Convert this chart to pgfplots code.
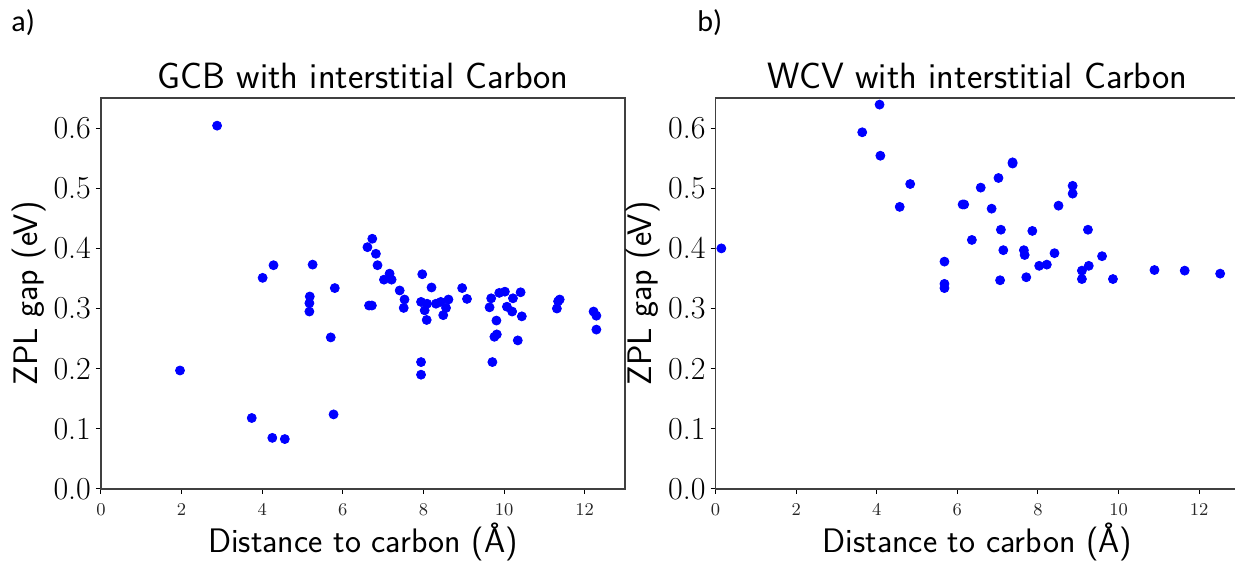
\documentclass[border=0pt]{standalone}
\usepackage{fontspec}
\usepackage{pgfplots}
\pgfplotsset{compat=1.18}
\newfontfamily\calibri{Carlito}
\definecolor{ptblue}{RGB}{0,0,255}
\pgfplotsset{
  myaxis/.style={
    scale only axis,
    width=262pt, height=195.5pt,
    xmin=0, xmax=13, ymin=0, ymax=0.65,
    xtick={0,2,4,6,8,10,12},
    ytick={0,0.1,0.2,0.3,0.4,0.5,0.6},
    yticklabels={0.0,0.1,0.2,0.3,0.4,0.5,0.6},
    tick pos=left,
    tick align=outside,
    major tick length=2.5pt,
    tick style={black, line width=0.5pt},
    axis line style={draw=black!75, line width=0.6pt},
    every x tick label/.style={font=\fontsize{9}{10}\selectfont, yshift=-1.5pt, text=black!85},
    every y tick label/.style={font=\fontsize{16}{18}\selectfont, xshift=1pt},
    title style={font=\fontsize{18.3}{21}\selectfont\sffamily, at={(axis description cs:0.5,1)}, anchor=base, yshift=-1.5pt},
    xlabel style={font=\fontsize{17}{20}\selectfont\sffamily, at={(axis description cs:0.5,-0.1637)}, anchor=base},
    ylabel style={font=\fontsize{17}{20}\selectfont\sffamily, at={(axis description cs:-0.122,0.5)}, anchor=base},
    xlabel={Distance to carbon (Å)},
    ylabel={ZPL gap (eV)},
    clip=false,
  },
  mypts/.style={only marks, mark=*, mark size=2.25pt, mark options={draw=ptblue, fill=ptblue}},
}
\begin{document}
\begin{tikzpicture}
\begin{axis}[myaxis, at={(50.5pt,38pt)}, anchor=south west, title={GCB with interstitial Carbon}]
\addplot[mypts] table {
x y
2.88 0.604
1.96 0.197
3.74 0.118
4.25 0.085
4.56 0.083
4.01 0.351
4.28 0.372
5.25 0.373
5.18 0.320
5.17 0.309
5.17 0.295
5.80 0.334
5.70 0.252
5.77 0.124
6.61 0.402
6.73 0.416
6.82 0.391
6.86 0.372
7.16 0.358
7.02 0.348
7.21 0.348
7.97 0.357
7.41 0.330
7.53 0.315
7.51 0.301
6.65 0.305
6.72 0.305
8.20 0.335
7.94 0.311
8.09 0.308
8.03 0.297
8.08 0.281
8.31 0.308
8.43 0.311
8.62 0.315
8.56 0.301
8.49 0.289
7.94 0.211
7.94 0.190
8.96 0.334
9.08 0.316
9.68 0.317
9.64 0.302
9.88 0.326
10.02 0.328
10.22 0.317
10.41 0.327
10.07 0.303
10.20 0.295
10.44 0.287
9.81 0.280
9.76 0.253
9.82 0.257
10.34 0.247
9.71 0.211
11.31 0.300
11.34 0.312
11.38 0.315
12.22 0.295
12.29 0.288
12.29 0.265
};
\end{axis}
\begin{axis}[myaxis, at={(357.75pt,38pt)}, anchor=south west, title={WCV with interstitial Carbon}]
\addplot[mypts] table {
x y
0.145 0.400
3.64 0.593
4.07 0.639
4.09 0.554
4.83 0.507
4.57 0.469
6.13 0.473
6.17 0.473
6.36 0.414
5.68 0.378
5.68 0.341
5.68 0.334
6.58 0.501
7.02 0.517
7.37 0.543
7.37 0.541
6.85 0.466
7.08 0.431
7.14 0.397
7.06 0.347
7.65 0.397
7.67 0.389
7.71 0.352
7.86 0.429
8.03 0.371
8.22 0.373
8.41 0.392
8.51 0.471
8.86 0.504
8.86 0.491
9.24 0.431
9.09 0.363
9.09 0.349
9.26 0.371
9.59 0.387
9.86 0.349
10.89 0.364
11.64 0.363
12.52 0.358
};
\end{axis}
\node[anchor=base west, inner sep=0pt, font=\fontsize{15}{17}\selectfont\calibri] at (5.5pt,266.5pt) {a)};
\node[anchor=base west, inner sep=0pt, font=\fontsize{15}{17}\selectfont\calibri] at (348.5pt,266.5pt) {b)};
\pgfresetboundingbox
\useasboundingbox (0pt,0pt) rectangle (617.5pt,282.5pt);
\end{tikzpicture}
\end{document}
